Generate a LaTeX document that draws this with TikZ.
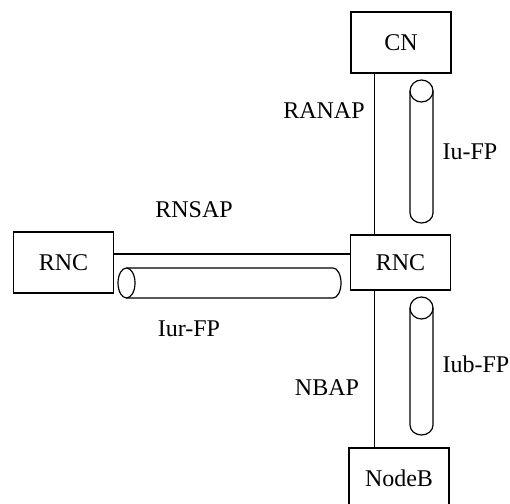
\documentclass[tikz,border=0pt]{standalone}
\usepackage{fontspec}
\setmainfont{Liberation Serif}
\usepackage{tikz}

\begin{document}
\begin{tikzpicture}[x=1pt, y=1pt, line width=1.3pt, every node/.style={font=\fontsize{24}{28}\selectfont, inner sep=0pt}, box/.style={draw, minimum width=100pt, minimum height=61pt}, pipe/.style={line width=1.2pt}]
		\clip (0,0) rectangle (510,503);
		\node[box](cn) at (401,460.5){CN};
		\node[box, minimum height=55pt](rnc) at (400.5,240.5){RNC};
		\node[box](rncl) at (63.5,240.5){RNC};
		\node[box](nodeb) at (399,24.5){NodeB};
		\draw ([xshift=-26.5pt]cn.south) -- ([xshift=-26pt]rnc.north);
		\draw ([xshift=-26pt]rnc.south) -- ([xshift=-24.5pt]nodeb.north);
		\draw ([yshift=8.5pt]rncl.east) -- ([yshift=8.5pt]rnc.west);
		% Iu-FP
		\draw[pipe] (410,412) -- (410,290) arc[start angle=180, end angle=360, x radius=11.5pt, y radius=10pt] -- (433,412);
		\draw[pipe] (421.5,412) ellipse[x radius=11.5pt, y radius=11pt];
		% Iub-FP
		\draw[pipe] (410,195) -- (410,78) arc[start angle=180, end angle=360, x radius=11.5pt, y radius=10pt] -- (433,195);
		\draw[pipe] (421.5,195) ellipse[x radius=11.5pt, y radius=11pt];
		% Iur-FP
		\draw[pipe] (126.5,235) -- (333,235) arc[start angle=90, end angle=-90, x radius=8pt, y radius=15pt] -- (126.5,205);
		\draw[pipe] (126.5,220) ellipse[x radius=8.5pt, y radius=15pt];
		\node(ranap) at (324,392){RANAP};
		\node(iufp) at (470,351){Iu-FP};
		\node(rnsap) at (194,293){RNSAP};
		\node(iurfp) at (189,174){Iur-FP};
		\node(nbap) at (327,115){NBAP};
		\node(iubfp) at (476,139){Iub-FP};
	\end{tikzpicture}
\end{document}
